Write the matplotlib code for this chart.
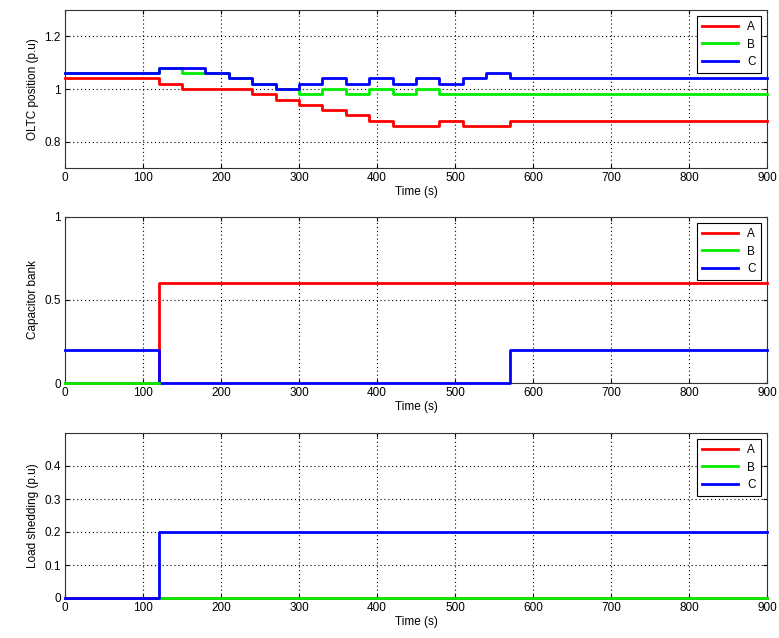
import matplotlib
matplotlib.use("Agg")
import matplotlib.pyplot as plt

plt.rcParams['font.family'] = ['Liberation Sans', 'DejaVu Sans']
plt.rcParams['font.size'] = 8.5

series_names = ["A", "B", "C"]
colors = ["#ff0000", "#00ee00", "#0000ff"]

# Panel 1: OLTC position (step change times and values)
oltc_t_A = [0, 120, 150, 240, 270, 300, 330, 360, 390, 420, 480, 510, 570, 900]
oltc_v_A = [1.04, 1.02, 1.00, 0.98, 0.96, 0.94, 0.92, 0.90, 0.88, 0.86, 0.88, 0.86, 0.88, 0.88]
oltc_t_B = [0, 120, 150, 180, 210, 240, 270, 300, 330, 360, 390, 420, 450, 480, 900]
oltc_v_B = [1.06, 1.08, 1.06, 1.06, 1.04, 1.02, 1.00, 0.98, 1.00, 0.98, 1.00, 0.98, 1.00, 0.98, 0.98]
oltc_t_C = [0, 120, 180, 210, 240, 270, 300, 330, 360, 390, 420, 450, 480, 510, 540, 570, 900]
oltc_v_C = [1.06, 1.08, 1.06, 1.04, 1.02, 1.00, 1.02, 1.04, 1.02, 1.04, 1.02, 1.04, 1.02, 1.04, 1.06, 1.04, 1.04]

# Panel 2: Capacitor bank
cap_t_A = [0, 120, 900]
cap_v_A = [0.0, 0.6, 0.6]
cap_t_B = [0, 120]
cap_v_B = [0.0, 0.0]
cap_t_C = [0, 120, 570, 900]
cap_v_C = [0.2, 0.0, 0.2, 0.2]

# Panel 3: Load shedding
ls_t_A = [0, 900]
ls_v_A = [0.0, 0.0]
ls_t_C = [0, 120, 900]
ls_v_C = [0.0, 0.2, 0.2]
ls_t_B = [120, 900]
ls_v_B = [0.0, 0.0]

xticks = [0, 100, 200, 300, 400, 500, 600, 700, 800, 900]

fig = plt.figure(figsize=(7.79, 6.38), dpi=100)
W, H = 779, 638
boxes = [(10, 168), (217, 383), (433, 598)]
left, right = 65, 767

panels = [
    ([(oltc_t_A, oltc_v_A), (oltc_t_B, oltc_v_B), (oltc_t_C, oltc_v_C)],
     "OLTC position (p.u)", (0.7, 1.3), [0.8, 1.0, 1.2], ["0.8", "1", "1.2"], [0, 1, 2]),
    ([(cap_t_A, cap_v_A), (cap_t_B, cap_v_B), (cap_t_C, cap_v_C)],
     "Capacitor bank", (0, 1), [0, 0.5, 1], ["0", "0.5", "1"], [0, 2, 1]),
    ([(ls_t_A, ls_v_A), (ls_t_B, ls_v_B), (ls_t_C, ls_v_C)],
     "Load shedding (p.u)", (0, 0.5), [0, 0.1, 0.2, 0.3, 0.4], ["0", "0.1", "0.2", "0.3", "0.4"], [0, 1, 2]),
]

for (top, bot), (data, ylabel, ylim, yt, ytl, order) in zip(boxes, panels):
    ax = fig.add_axes([left / W, 1 - bot / H, (right - left) / W, (bot - top) / H])
    handles = {}
    for k in order:
        t, v = data[k]
        ln, = ax.plot(t, v, drawstyle='steps-post', color=colors[k], lw=2,
                      label=series_names[k], clip_on=False, zorder=3)
        handles[k] = ln
    ax.set_xlim(0, 900)
    ax.set_ylim(*ylim)
    ax.set_xticks(xticks)
    ax.set_yticks(yt)
    ax.set_yticklabels(ytl)
    ax.set_xlabel("Time (s)", labelpad=1)
    ax.set_ylabel(ylabel, labelpad=4)
    ax.grid(True, color='black', linestyle=(0, (1, 2.5)), linewidth=0.8)
    ax.tick_params(direction='in', length=3, top=True, right=True, pad=3)
    for s in ax.spines.values():
        s.set_color('#333333')
        s.set_linewidth(0.8)
        s.set_zorder(2)
    leg = ax.legend([handles[0], handles[1], handles[2]], series_names,
                    loc='upper right', fancybox=False, framealpha=1,
                    edgecolor='black', handlelength=3.0, borderpad=0.45,
                    labelspacing=0.45, handletextpad=0.8, borderaxespad=0.5)
    leg.get_frame().set_linewidth(0.8)
    leg.set_zorder(5)

fig.savefig("out.png", dpi=100)
